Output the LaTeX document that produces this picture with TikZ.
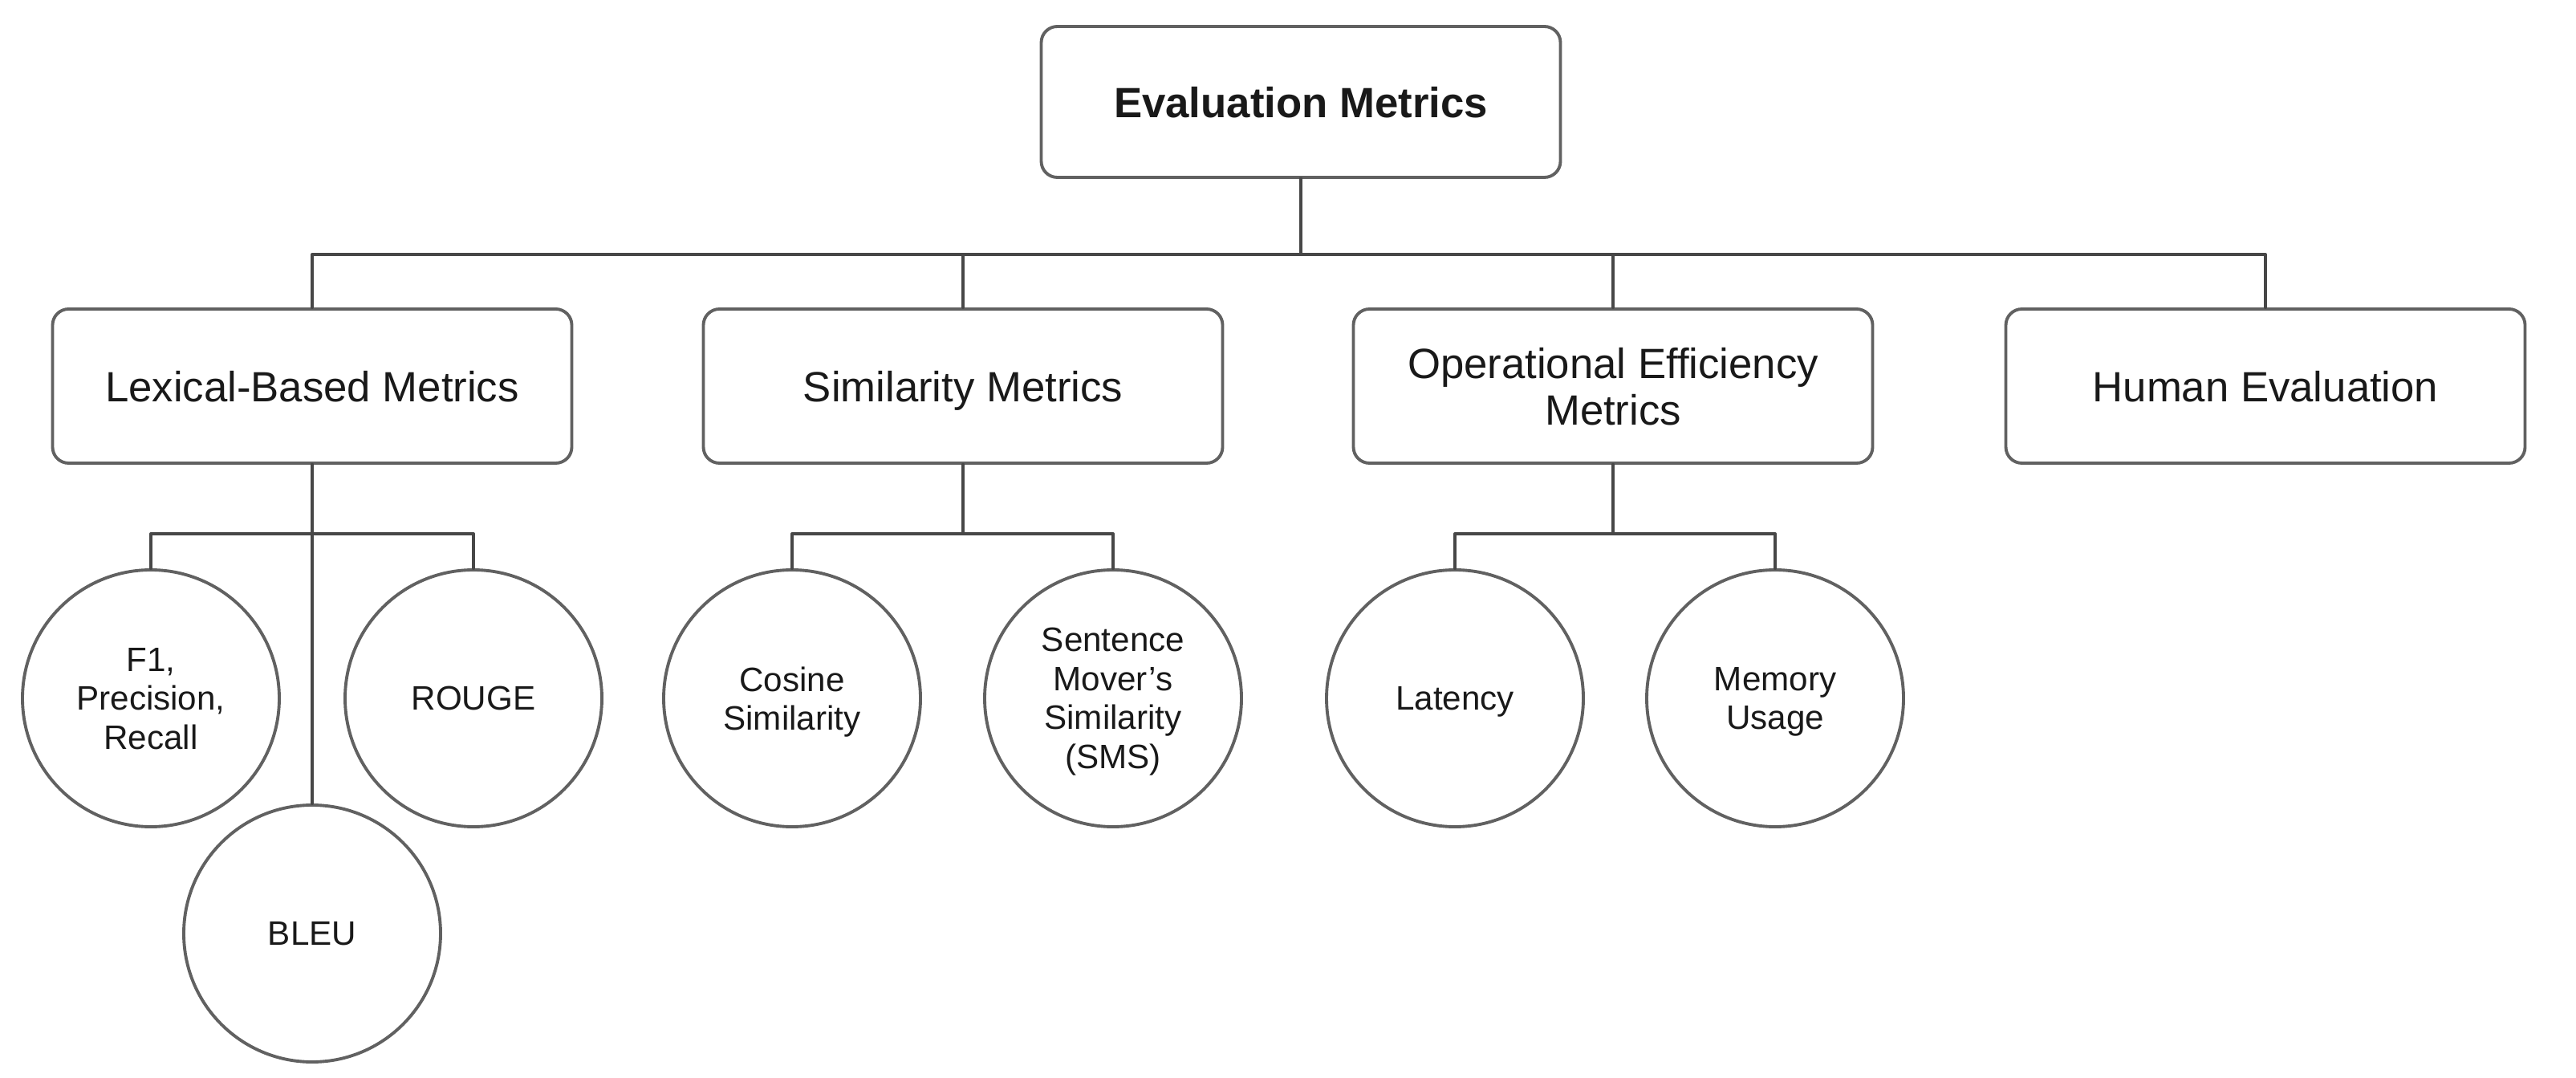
\documentclass[tikz,border=0pt]{standalone}
\usepackage{fontspec}
\setmainfont{Liberation Sans}
\usepackage{tikz}
\usetikzlibrary{calc}

\begin{document}
\begin{tikzpicture}[line cap=round,line join=round,x=1.0cm,y=1.0cm,
    wire/.style={draw=black!72,line width=1.1pt},
    catbox/.style={draw=black!62,line width=1.1pt,rounded corners=0.2cm,fill=white,
      minimum width=6.47cm,minimum height=1.92cm,align=center,text=black!90,text depth=0pt,
      font=\fontsize{15}{16.5}\selectfont},
    leaf/.style={circle,draw=black!62,line width=1.1pt,fill=white,minimum size=3.2cm,
      inner sep=0pt,align=center,text=black!90,text depth=0pt,font=\fontsize{12}{13.8}\selectfont}]
      \useasboundingbox (0,0) rectangle (32.10,13.42);
      % top of the tree
      \node[catbox,minimum height=1.88cm,font=\fontsize{15}{16.5}\selectfont\bfseries] (root) at (16.21,12.15) {Evaluation Metrics};
      \coordinate (hub) at (16.21,10.25);
      % categories
      \node[catbox] (lex) at (3.89,8.61) {Lexical-Based Metrics};
      \node[catbox] (sim) at (12.00,8.61) {Similarity Metrics};
      \node[catbox] (ops) at (20.10,8.61) {Operational Efficiency\\Metrics};
      \node[catbox] (hum) at (28.23,8.61) {Human Evaluation};
      \foreach \c in {lex,sim,ops,hum}
        \draw[wire] (root.south) -- (hub) -| (\c.north);
      % metrics
      \coordinate (bar) at (0,6.77);
      \node[leaf] (f1) at (1.88,4.72) {F1,\\Precision,\\Recall};
      \node[leaf] (rouge) at (5.90,4.72) {ROUGE};
      \node[leaf] (bleu) at (3.89,1.79) {BLEU};
      \node[leaf] (cos) at (9.87,4.72) {Cosine\\Similarity};
      \node[leaf] (sms) at (13.87,4.72) {Sentence\\Mover's\\Similarity\\(SMS)};
      \node[leaf] (lat) at (18.13,4.72) {Latency};
      \node[leaf] (mem) at (22.12,4.72) {Memory\\Usage};
      \draw[wire] (lex.south) -- (bleu.north);
      \foreach \p/\c in {lex/f1,lex/rouge,sim/cos,sim/sms,ops/lat,ops/mem}
        \draw[wire] (\p.south) -- (\p.south |- bar) -| (\c.north);
    \end{tikzpicture}
\end{document}
